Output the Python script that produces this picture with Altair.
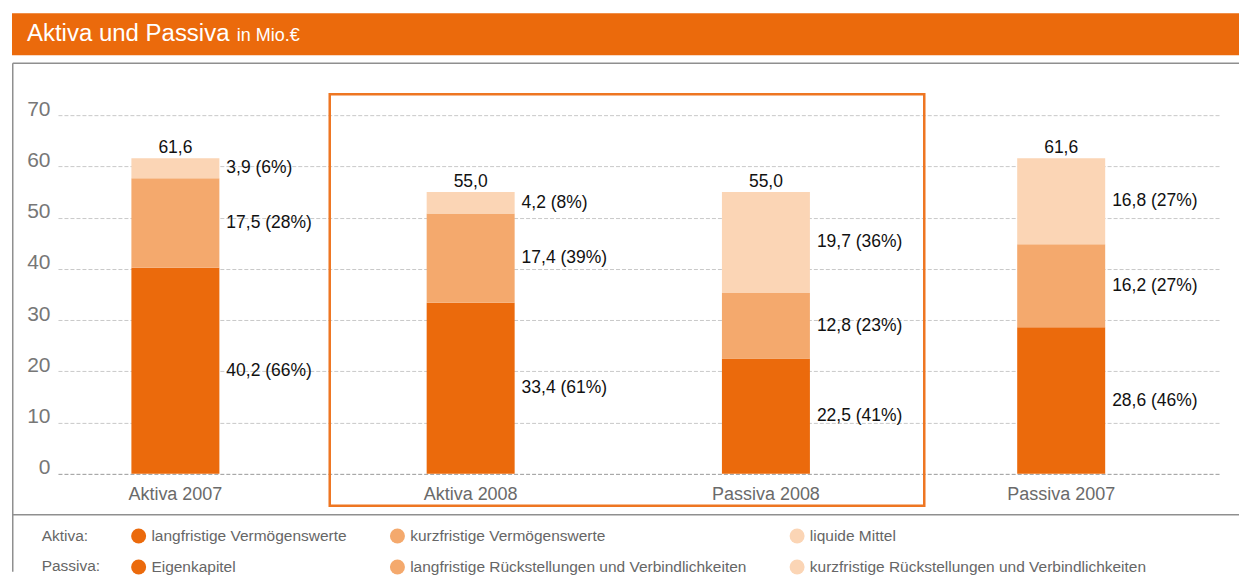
import altair as alt
import pandas as pd

# ---------------- data ----------------
bars = ["Aktiva 2007", "Aktiva 2008", "Passiva 2008", "Passiva 2007"]
aktiva_parts = ["langfristige Vermögenswerte", "kurzfristige Vermögenswerte", "liquide Mittel"]
passiva_parts = ["Eigenkapitel", "langfristige Rückstellungen und Verbindlichkeiten",
                 "kurzfristige Rückstellungen und Verbindlichkeiten"]
level_bottom = [40.2, 33.4, 22.5, 28.6]
level_middle = [17.5, 17.4, 12.8, 16.2]
level_top = [3.9, 4.2, 19.7, 16.8]
pct_bottom = [66, 61, 41, 46]
pct_middle = [28, 39, 23, 27]
pct_top = [6, 8, 36, 27]
totals = [61.6, 55.0, 55.0, 61.6]
y_ticks = [0, 10, 20, 30, 40, 50, 60, 70]
title_main = "Aktiva und Passiva"
title_unit = "in Mio.€"
row_labels = ["Aktiva:", "Passiva:"]

# ---------------- styles ----------------
FONT = "Liberation Sans"
ORANGE = "#EB6A0C"
MID = "#F4A96D"
LIGHT = "#FBD5B5"
FRAME = "#8f8f8f"
HILITE = "#EE7622"


def de(v):
    return f"{v:.1f}".replace(".", ",")


rows = []
for i, b in enumerate(bars):
    names = aktiva_parts if b.startswith("Aktiva") else passiva_parts
    for lvl, (vals, pcts) in enumerate([(level_bottom, pct_bottom),
                                        (level_middle, pct_middle),
                                        (level_top, pct_top)]):
        rows.append({"bar": b, "level": lvl, "part": names[lvl], "value": vals[i],
                     "label": f"{de(vals[i])} ({pcts[i]}%)"})
df = pd.DataFrame(rows)
df_tot = pd.DataFrame({"bar": bars, "total": totals, "label": [de(t) for t in totals]})
df_one = pd.DataFrame({"k": [0]})
df_rows = pd.DataFrame({"row": row_labels, "idx": [0, 1]})

W, H = 1164, 359

x_enc = alt.X("bar:N", sort=bars, title=None,
              scale=alt.Scale(paddingInner=0.702, paddingOuter=0.3205, align=0.388),
              axis=alt.Axis(labelFontSize=18, labelColor="#6a6a6a", labelFont=FONT,
                            ticks=False, tickSize=0, domain=False, labelAngle=0,
                            labelBaseline="alphabetic", labelPadding=26))
y_scale = alt.Scale(domain=[0, 70], nice=False)

color_scale = alt.Scale(domain=aktiva_parts + passiva_parts,
                        range=[ORANGE, MID, LIGHT, ORANGE, MID, LIGHT])

# header bar
header = alt.Chart(df_one).mark_rect(color=ORANGE).encode(
    x=alt.value(-46), x2=alt.value(1182), y=alt.value(-102), y2=alt.value(-60))
head_t1 = alt.Chart(df_one).mark_text(text=title_main, color="white", fontSize=24, font=FONT,
                                      align="left", baseline="alphabetic").encode(
    x=alt.value(-31), y=alt.value(-74))
head_t2 = alt.Chart(df_one).mark_text(text=title_unit, color="white", fontSize=18, font=FONT,
                                      align="left", baseline="alphabetic").encode(
    x=alt.value(179), y=alt.value(-74))

# frame lines
top_line = alt.Chart(df_one).mark_rule(color=FRAME, strokeWidth=1.5).encode(
    x=alt.value(-45.25), x2=alt.value(1182), y=alt.value(-52))
left_line = alt.Chart(df_one).mark_rule(color=FRAME, strokeWidth=1.5).encode(
    x=alt.value(-45.25), y=alt.value(-52), y2=alt.value(457))
sep_line = alt.Chart(df_one).mark_rule(color=FRAME, strokeWidth=1.5).encode(
    x=alt.value(-45.25), x2=alt.value(1182), y=alt.value(400))

# highlight box
hilite = alt.Chart(df_one).mark_rect(fillOpacity=0, stroke=HILITE, strokeWidth=2.5).encode(
    x=alt.value(272), x2=alt.value(867), y=alt.value(-21), y2=alt.value(391))

# bars
bar_layer = alt.Chart(df).mark_bar().encode(
    x=x_enc,
    y=alt.Y("value:Q", stack="zero", scale=y_scale, title=None,
            axis=alt.Axis(values=y_ticks, labelFontSize=21, labelColor="#777777", labelFont=FONT,
                          ticks=False, domain=False, labelBaseline="alphabetic", labelPadding=8,
                          grid=True, gridDash=[4, 2], gridWidth=1,
                          gridColor={"condition": {"test": "datum.value === 0", "value": "#9a9a9a"},
                                     "value": "#c9c9c9"})),
    color=alt.Color("part:N", scale=color_scale, title=None,
                    legend=alt.Legend(orient="none", legendX=73, legendY=413,
                                      direction="horizontal", columns=3, gridAlign="each",
                                      columnPadding=42, rowPadding=14.5, symbolType="circle",
                                      symbolSize=225, symbolStrokeWidth=0, labelFont=FONT,
                                      labelFontSize=15.5, labelColor="#666666", labelOffset=5,
                                      labelLimit=600, padding=0)),
    order=alt.Order("level:Q", sort="ascending"),
)

seg_labels = alt.Chart(df).transform_stack(
    stack="value", groupby=["bar"], sort=[alt.SortField("level", order="ascending")],
    as_=["y0", "y1"]
).transform_calculate(mid="(datum.y0 + datum.y1) / 2").mark_text(
    align="left", baseline="middle", dx=51, fontSize=17.5, font=FONT, color="#111111"
).encode(x=x_enc, y=alt.Y("mid:Q", scale=y_scale), text="label:N")

tot_labels = alt.Chart(df_tot).mark_text(
    align="center", baseline="alphabetic", dy=-5, fontSize=17.5, font=FONT, color="#111111"
).encode(x=x_enc, y=alt.Y("total:Q", scale=y_scale), text="label:N")

row_text = alt.Chart(df_rows).transform_filter("datum.idx == 0").mark_text(
    align="left", baseline="middle", fontSize=15.5, font=FONT, color="#666666").encode(
    x=alt.value(-16.3), y=alt.value(421), text="row:N")
row_text2 = alt.Chart(df_rows).transform_filter("datum.idx == 1").mark_text(
    align="left", baseline="middle", fontSize=15.5, font=FONT, color="#666666").encode(
    x=alt.value(-16.3), y=alt.value(451), text="row:N")

chart = alt.layer(
    header, head_t1, head_t2, top_line, left_line, sep_line, hilite,
    bar_layer, seg_labels, tot_labels, row_text, row_text2
).properties(
    width=W, height=H,
    padding={"left": 4, "top": 5, "right": 0, "bottom": 0},
).configure(font=FONT).configure_view(strokeWidth=0)

chart.save("out.html", embed_options={"renderer": "svg", "actions": False})
